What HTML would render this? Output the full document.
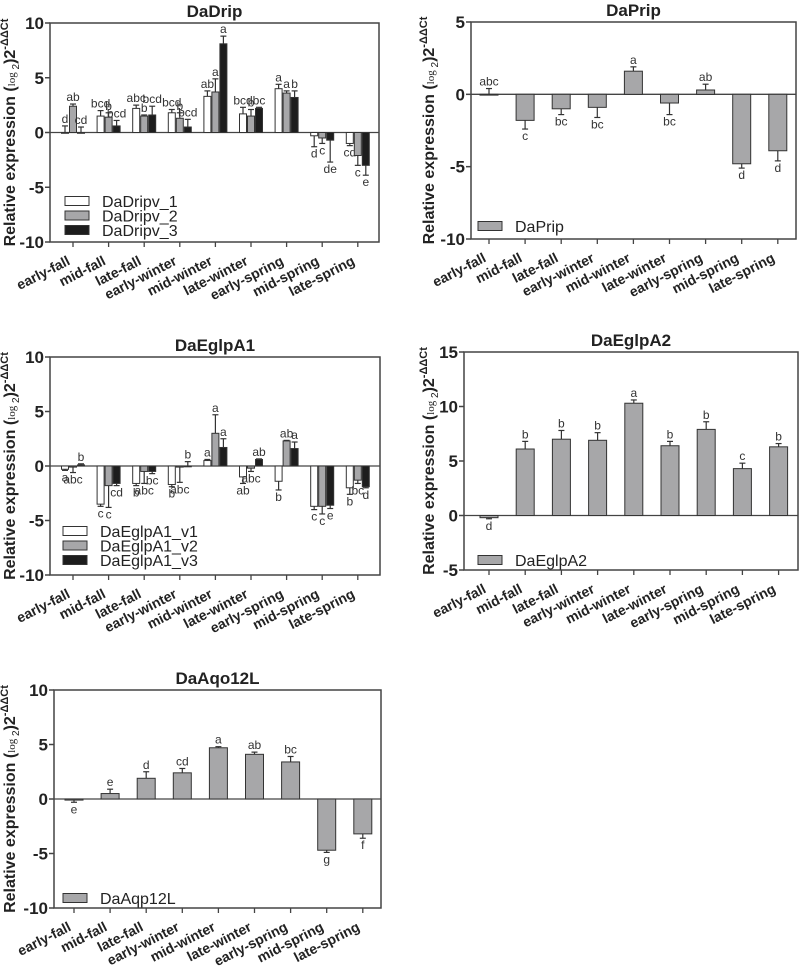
<!DOCTYPE html>
<html><head><meta charset="utf-8"><style>
body{margin:0;background:#fff;}
svg{display:block;font-family:"Liberation Sans",Arial,sans-serif;}
</style></head><body>
<svg id="fig" width="800" height="969" viewBox="0 0 800 969" xmlns="http://www.w3.org/2000/svg"></svg>
<script>
const categories=["early-fall","mid-fall","late-fall","early-winter","mid-winter","late-winter","early-spring","mid-spring","late-spring"];
// DaDrip
const dripV1=[0.0,1.5,2.2,1.8,3.3,1.7,4.0,-0.3,-1.0];
const dripV1Err=[0.6,0.5,0.3,0.3,0.5,0.6,0.4,1.0,0.2];
const dripV1Let=["d","bcd","abc","bcd","ab","bcd","a","d","cd"];
const dripV2=[2.4,1.4,1.5,1.3,3.7,1.5,3.6,-0.5,-2.1];
const dripV2Err=[0.2,0.4,0.1,0.5,1.2,0.6,0.2,0.5,0.9];
const dripV2Let=["ab","b","b","b","a","b","a","c","c"];
const dripV3=[0.0,0.6,1.6,0.5,8.1,2.2,3.2,-0.7,-3.0];
const dripV3Err=[0.5,0.5,0.8,0.7,0.7,0.1,0.6,2.0,0.9];
const dripV3Let=["cd","bcd","bcd","bcd","a","bc","b","de","e"];
// DaPrip
const prip=[0.0,-1.8,-1.0,-0.9,1.6,-0.6,0.3,-4.8,-3.9];
const pripErr=[0.4,0.6,0.4,0.7,0.3,0.8,0.4,0.3,0.7];
const pripLet=["abc","c","bc","bc","a","bc","ab","d","d"];
// DaEglpA1
const eA1V1=[-0.3,-3.5,-1.6,-1.7,0.5,-1.0,-1.4,-3.7,-2.0];
const eA1V1Err=[0.1,0.2,0.2,0.2,0.1,0.6,0.8,0.3,0.6];
const eA1V1Let=["a","c","b","b","a","ab","b","c","b"];
const eA1V2=[-0.1,-1.8,-0.5,-0.1,3.0,-0.2,2.3,-3.7,-1.3];
const eA1V2Err=[0.5,2.0,1.1,1.4,1.7,0.3,0.05,0.7,0.3];
const eA1V2Let=["abc","c","abc","abc","a","abc","ab","c","bc"];
const eA1V3=[0.1,-1.6,-0.5,0.0,1.7,0.6,1.6,-3.6,-1.9];
const eA1V3Err=[0.1,0.2,0.2,0.4,0.8,0.05,0.6,0.3,0.1];
const eA1V3Let=["b","cd","bc","b","a","ab","a","e","d"];
// DaEglpA2
const eA2=[-0.2,6.1,7.0,6.9,10.3,6.4,7.9,4.3,6.3];
const eA2Err=[0.1,0.7,0.8,0.7,0.3,0.4,0.7,0.5,0.3];
const eA2Let=["d","b","b","b","a","b","b","c","b"];
// DaAqp12L
const aqp=[-0.1,0.5,1.9,2.4,4.7,4.1,3.4,-4.7,-3.2];
const aqpErr=[0.2,0.4,0.6,0.4,0.1,0.2,0.5,0.2,0.4];
const aqpLet=["e","e","d","cd","a","ab","bc","g","f"];
const yTicksA=[10,5,0,-5,-10];
const yTicksB=[5,0,-5,-10];
const yTicksD=[15,10,5,0,-5];

const NS="http://www.w3.org/2000/svg";
const svg=document.getElementById('fig');
function mk(tag,attrs,parent,text){const e=document.createElementNS(NS,tag);for(const k in attrs)e.setAttribute(k,attrs[k]);if(text!==undefined)e.textContent=text;(parent||svg).appendChild(e);return e;}

function panel(p){
  const g=mk('g',{});
  
  
  const y=v=>p.top+(p.ymax-v)/(p.ymax-p.ymin)*(p.bottom-p.top);
  const x=i=>p.x0+i*p.step;
  const t=mk('text',{x:(p.left+p.right)/2,y:p.top-6,'text-anchor':'middle','font-size':17,'font-weight':'bold',fill:'#222'},g,p.title);
  
  
  const fr=mk('rect',{x:p.left,y:p.top,width:p.right-p.left,height:p.bottom-p.top,fill:'none',stroke:'#444','stroke-width':1.5},g);
  
  
  p.yt.forEach(v=>{
    mk('line',{x1:p.left-5,x2:p.left,y1:y(v),y2:y(v),stroke:'#444','stroke-width':1.5},g);
    const tl=mk('text',{x:p.left-6,y:y(v)+6,'text-anchor':'end','font-size':17,'font-weight':'bold',fill:'#222'},g,String(v));
    
    
  });
  mk('line',{x1:p.left,x2:p.right,y1:y(0),y2:y(0),stroke:'#444','stroke-width':1.3},g);
  categories.forEach((c,i)=>{
    mk('line',{x1:x(i),x2:x(i),y1:p.bottom,y2:p.bottom+5,stroke:'#444','stroke-width':1.3},g);
    const lx=x(i)-2,ly=p.bottom+22;
    const xl=mk('text',{x:lx,y:ly,'text-anchor':'end','font-size':14,'font-weight':'bold',fill:'#222',transform:`rotate(-27 ${lx} ${ly})`},g,c);
    
    
  });
  const cy=(p.top+p.bottom)/2;
  const yt=mk('text',{x:p.ytx,y:cy,'text-anchor':'middle','font-size':16,'font-weight':'bold',fill:'#222',transform:`rotate(-90 ${p.ytx} ${cy})`},g);
  
  
  mk('tspan',{},yt,'Relative expression (');
  mk('tspan',{'font-size':11,'font-weight':'normal','font-family':'Liberation Serif, serif'},yt,'log');
  mk('tspan',{'font-size':10,'font-weight':'normal',dy:4},yt,' 2');
  mk('tspan',{dy:-4},yt,')2');
  mk('tspan',{'font-size':11,dy:-7},yt,'-ΔΔCt');
  const n=p.series.length;
  const bw=n===1?18:7;
  p.series.forEach((s,si)=>{
    const off=n===1?0:(si-1)*8;
    s.vals.forEach((v,i)=>{
      const cx=x(i)+off;
      const y0=y(0),yv=y(v);
      const e=s.err[i];
      const ye=y(v+(v>=0?e:-e));
      const el=mk('line',{x1:cx,x2:cx,y1:yv,y2:ye,stroke:'#333','stroke-width':1.2},g);
      
      
      mk('line',{x1:cx-3,x2:cx+3,y1:ye,y2:ye,stroke:'#333','stroke-width':1.2},g);
      const b=mk('rect',{x:cx-bw/2,y:Math.min(y0,yv),width:bw,height:Math.max(0.8,Math.abs(yv-y0)),fill:s.fill,stroke:'#333','stroke-width':1},g);
      
      
      const ly=v>=0?ye-3:ye+11;
      const lt=mk('text',{x:cx,y:ly,'text-anchor':'middle','font-size':12,fill:'#333'},g,s.lets[i]);
      
      
    });
  });
  p.series.forEach((s,si)=>{
    const ly=p.legY+si*14.5;
    const lg=mk('g',{},g);
    
    
    mk('rect',{x:p.legX,y:ly-4.5,width:24,height:9,fill:s.fill,stroke:'#333','stroke-width':1},lg);
    mk('text',{x:p.legX+37,y:ly+6,'font-size':16,fill:'#222'},lg,s.name);
  });
}

panel({id:'dadrip',title:'DaDrip',left:50,right:379,top:23,bottom:242,ymin:-10,ymax:10,x0:73,step:35.6,yt:yTicksA,ytx:15,legX:65,legY:201,
  series:[{name:'DaDripv_1',vals:dripV1,err:dripV1Err,lets:dripV1Let,fill:'#fff'},
          {name:'DaDripv_2',vals:dripV2,err:dripV2Err,lets:dripV2Let,fill:'#a7a7a9'},
          {name:'DaDripv_3',vals:dripV3,err:dripV3Err,lets:dripV3Let,fill:'#1d1d1d'}]});
panel({id:'daprip',title:'DaPrip',left:471,right:796,top:22,bottom:239,ymin:-10,ymax:5,x0:489,step:36.1,yt:yTicksB,ytx:434,legX:478,legY:226,
  series:[{name:'DaPrip',vals:prip,err:pripErr,lets:pripLet,fill:'#a7a7a9'}]});
panel({id:'daeglpa1',title:'DaEglpA1',left:50,right:380,top:357,bottom:575,ymin:-10,ymax:10,x0:73,step:35.6,yt:yTicksA,ytx:15,legX:63,legY:531,
  series:[{name:'DaEglpA1_v1',vals:eA1V1,err:eA1V1Err,lets:eA1V1Let,fill:'#fff'},
          {name:'DaEglpA1_v2',vals:eA1V2,err:eA1V2Err,lets:eA1V2Let,fill:'#a7a7a9'},
          {name:'DaEglpA1_v3',vals:eA1V3,err:eA1V3Err,lets:eA1V3Let,fill:'#1d1d1d'}]});
panel({id:'daeglpa2',title:'DaEglpA2',left:464,right:798,top:352,bottom:570,ymin:-5,ymax:15,x0:489,step:36.2,yt:yTicksD,ytx:434,legX:478,legY:560,
  series:[{name:'DaEglpA2',vals:eA2,err:eA2Err,lets:eA2Let,fill:'#a7a7a9'}]});
panel({id:'daaqp12l',title:'DaAqo12L',left:54,right:381,top:690,bottom:908,ymin:-10,ymax:10,x0:74,step:36.1,yt:yTicksA,ytx:15,legX:63,legY:898,
  series:[{name:'DaAqp12L',vals:aqp,err:aqpErr,lets:aqpLet,fill:'#a7a7a9'}]});
</script>
</body></html>
